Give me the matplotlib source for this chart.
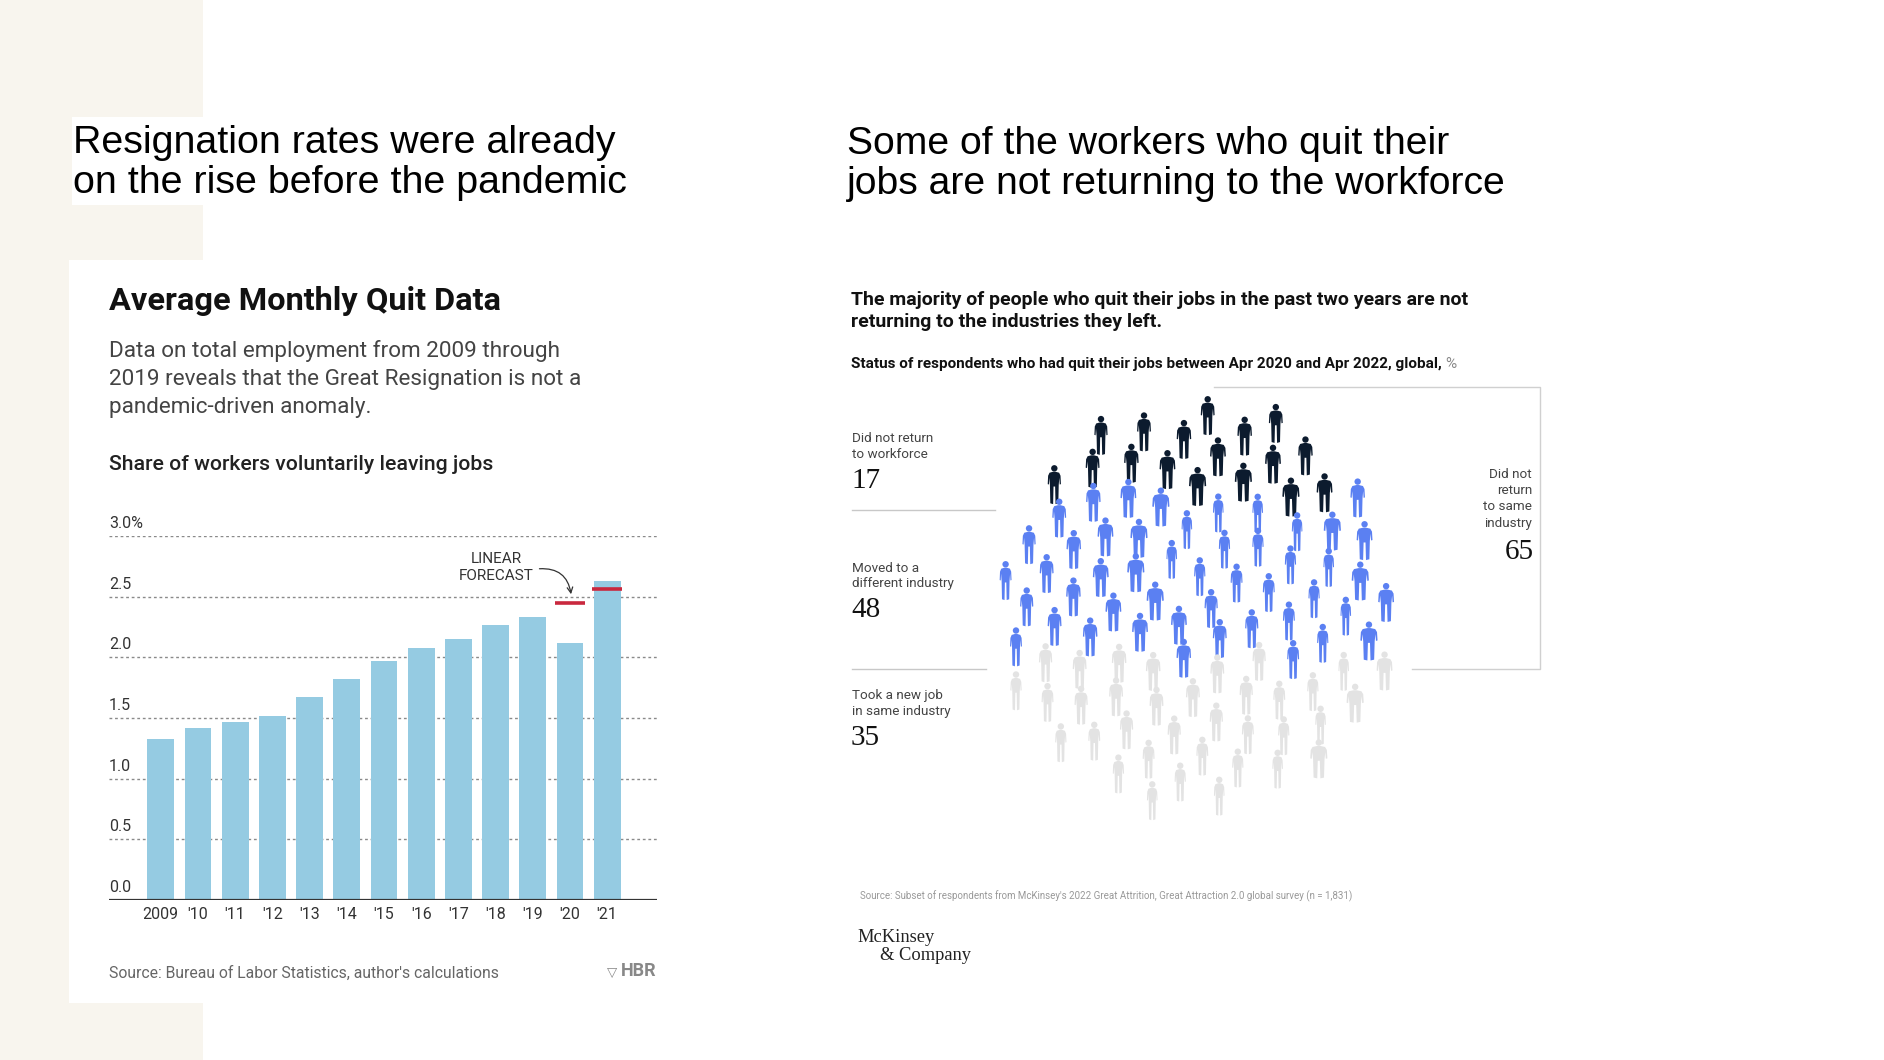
import numpy as np
import matplotlib
matplotlib.use('Agg')
import matplotlib.pyplot as plt
from matplotlib.patches import Polygon, Circle, Rectangle

# ---- data ----
years = ['2009', "'10", "'11", "'12", "'13", "'14", "'15", "'16", "'17", "'18", "'19", "'20", "'21"]
quit_rate = [1.33, 1.42, 1.47, 1.52, 1.67, 1.82, 1.97, 2.08, 2.15, 2.27, 2.33, 2.12, 2.63]
forecast_idx = [11, 12]
forecast_val = [2.45, 2.56]
yticks = [0.0, 0.5, 1.0, 1.5, 2.0, 2.5, 3.0]
ytick_labels = ['0.0', '0.5', '1.0', '1.5', '2.0', '2.5', '3.0%']

groups = ['Did not return\nto workforce', 'Moved to a\ndifferent industry', 'Took a new job\nin same industry']
shares = [17, 48, 35]
group_colors = ['#0c1b2e', '#5b80f2', '#e3e3e3']
not_same_label = 'Did not\nreturn\nto same\nindustry'
not_same_share = shares[0] + shares[1]

SANS = ['Roboto', 'DejaVu Sans']
TITLE = ['Liberation Sans', 'DejaVu Sans']
SERIF = ['Liberation Serif', 'DejaVu Serif']

W, H = 1884, 1060
fig = plt.figure(figsize=(W / 100, H / 100), dpi=100)
fig.patch.set_facecolor('white')

# background canvas in pixel coordinates
bg = fig.add_axes([0, 0, 1, 1])
bg.set_xlim(0, W); bg.set_ylim(H, 0); bg.axis('off')
bg.add_patch(Rectangle((0, 0), 203, H, color='#f8f5ee', lw=0))
bg.add_patch(Rectangle((72, 117), 140, 88, color='white', lw=0))
bg.add_patch(Rectangle((69, 260), 150, 743, color='white', lw=0))

# ---- left panel text ----
bg.text(73, 163, 'Resignation rates were already\non the rise before the pandemic',
        family=TITLE, fontsize=28.4, va='center', linespacing=1.13, color='black')
bg.text(109, 301, 'Average Monthly Quit Data', family=SANS, fontsize=23.4, weight='bold',
        va='center', color='#111')
bg.text(109, 379, 'Data on total employment from 2009 through\n2019 reveals that the Great Resignation is not a\npandemic-driven anomaly.',
        family=SANS, fontsize=16.2, va='center', linespacing=1.45, color='#444')
bg.text(109, 464, 'Share of workers voluntarily leaving jobs', family=SANS, fontsize=15.3,
        weight='medium', va='center', color='#222')
bg.text(109, 973, "Source: Bureau of Labor Statistics, author's calculations", family=SANS,
        fontsize=11.3, va='center', color='#666')
bg.text(656, 971, 'HBR', family=SANS, fontsize=13, weight='bold', va='center', ha='right', color='#888')
bg.text(617, 972, '▽', family=['DejaVu Sans'], fontsize=9.5, va='center', ha='right', color='#888')

# ---- bar chart ----
ax = fig.add_axes([109 / W, 1 - 900 / H, 548 / W, (900 - 536) / H])
ax.set_facecolor('none')
x = np.arange(len(years))
ax.bar(x, quit_rate, width=0.72, color='#95cbe2', zorder=2)
for i, v in zip(forecast_idx, forecast_val):
    ax.plot([i - 0.4, i + 0.4], [v, v], color='#c9283e', lw=2.6, zorder=3, solid_capstyle='butt')
for t, lab in zip(yticks, ytick_labels):
    if t > 0:
        ax.axhline(t, color='#8a8a8a', lw=1, ls=(0, (2, 2)), zorder=1)
    ax.annotate(lab, (0, t), xycoords=('axes fraction', 'data'), xytext=(0, 3.5),
                textcoords='offset points', va='bottom', ha='left', family=SANS,
                fontsize=11.5, color='#333', annotation_clip=False)
ax.axhline(0, color='#333', lw=1.6, zorder=4)
ax.set_xlim(-1.39, 13.34)
ax.set_ylim(0, 3.0)
ax.set_xticks(x)
ax.set_xticklabels(years, family=SANS, fontsize=11.5, color='#333')
ax.tick_params(axis='x', length=0, pad=5)
ax.set_yticks([])
for s in ax.spines.values():
    s.set_visible(False)
ax.text(9.02, 2.74, 'LINEAR\nFORECAST', ha='center', va='center', family=SANS, fontsize=11,
        color='#333', linespacing=1.35)
ax.annotate('', xy=(11.03, 2.52), xytext=(10.18, 2.73), xycoords='data',
            arrowprops=dict(arrowstyle='->', color='#333', lw=0.9,
                            connectionstyle='arc3,rad=-0.45', shrinkA=0, shrinkB=0))

# ---- right panel text ----
bg.text(847, 164, 'Some of the workers who quit their\njobs are not returning to the workforce',
        family=TITLE, fontsize=28.2, va='center', linespacing=1.13, color='black')
bg.text(851, 311, 'The majority of people who quit their jobs in the past two years are not\nreturning to the industries they left.',
        family=SANS, fontsize=14, weight='bold', va='center', linespacing=1.35, color='#111')
t1 = bg.text(851, 364, 'Status of respondents who had quit their jobs between Apr 2020 and Apr 2022, global, ',
             family=SANS, fontsize=11, weight='bold', va='center', color='#111')
bg.annotate('%', xycoords=t1, xy=(1, 0.5), va='center', ha='left', family=SANS,
            fontsize=11, color='#888')

label_y = [447, 576, 704]
num_y = [481, 610, 738]
sep_y = [510, 669]
for lab, val, ly, ny in zip(groups, shares, label_y, num_y):
    bg.text(852, ly, lab, family=SANS, fontsize=9.7, va='center', linespacing=1.3, color='#444')
    bg.text(851, ny, str(val), family=SERIF, fontsize=21, va='center', color='#111')
for sy, x1 in zip(sep_y, [995, 986]):
    bg.plot([852, x1], [sy, sy], color='#c8c8c8', lw=1)
bg.plot([1214, 1540, 1540, 1412], [387, 387, 669, 669], color='#d0d0d0', lw=1)
bg.text(1532, 499, not_same_label, family=SANS, fontsize=9.7, va='center', ha='right',
        linespacing=1.3, color='#444')
bg.text(1534, 552, str(not_same_share), family=SERIF, fontsize=21, va='center', ha='right', color='#111')

bg.text(860, 896, "Source: Subset of respondents from McKinsey's 2022 Great Attrition, Great Attraction 2.0 global survey (n = 1,831)",
        family=SANS, fontsize=7.05, va='center', color='#999')
bg.text(857, 937, 'McKinsey', family=SERIF, fontsize=13.3, va='center', color='#222')
bg.text(880, 955, '& Company', family=SERIF, fontsize=13.3, va='center', color='#222')

# ---- people pictogram ----
half = np.array([[0.03, 0.81], [0.12, 0.785], [0.155, 0.71], [0.165, 0.50], [0.135, 0.49],
                 [0.125, 0.66], [0.11, 0.48], [0.10, 0.02], [0.03, 0.0], [0.02, 0.44]])
body = np.vstack([half, half[::-1] * [-1, 1]])
widths = [1.0, 1.2, 0.85, 1.05, 1.3, 0.9, 1.1, 0.8]

n = sum(shares)
cx, cy, rx, ry = 1197, 608, 200, 202
k = np.arange(n)
rr = np.sqrt((k + 0.5) / n)
th = k * np.pi * (3 - np.sqrt(5))
px = cx + rx * rr * np.cos(th)
py = cy + ry * rr * np.sin(th)
order = np.argsort(py)
cols = np.repeat(group_colors, shares)
fh = 40
for rank, j in enumerate(order):
    c = cols[rank]
    wf = widths[j % len(widths)]
    pts = np.column_stack([px[j] + body[:, 0] * fh * wf, py[j] + fh / 2 - body[:, 1] * fh])
    bg.add_patch(Polygon(pts, closed=True, color=c, lw=0))
    bg.add_patch(Circle((px[j], py[j] + fh / 2 - 0.895 * fh), 0.08 * fh, color=c, lw=0))

fig.savefig('out.png', dpi=100)
